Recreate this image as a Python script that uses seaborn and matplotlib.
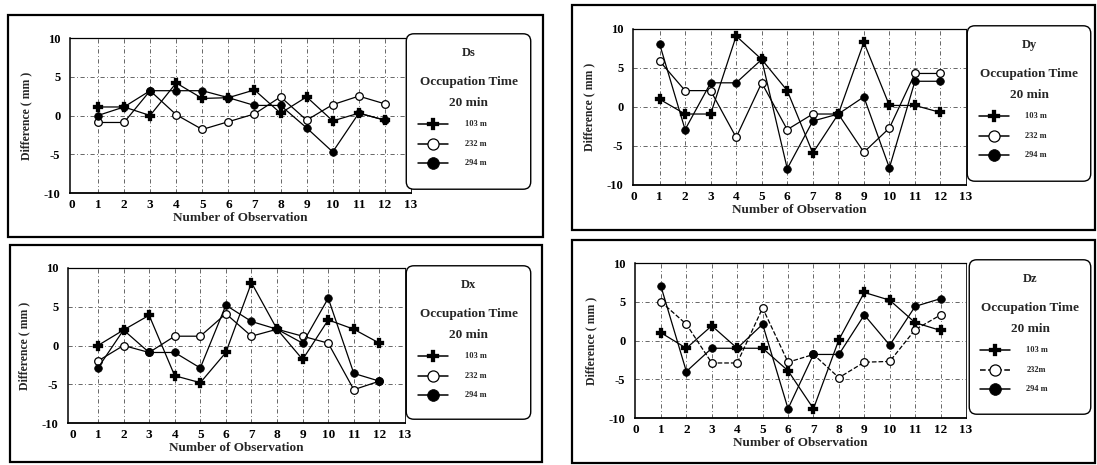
import numpy as np
import pandas as pd
import matplotlib
matplotlib.use("Agg")
import matplotlib.pyplot as plt
from matplotlib.patches import FancyBboxPatch, Rectangle
from matplotlib.lines import Line2D
import seaborn as sns

# ---------------- data ----------------
obs = list(range(1, 13))
xticks = list(range(0, 14))
yticks = [-10, -5, 0, 5, 10]
series_labels = ["103 m", "232 m", "294 m"]
dz_labels = ["103 m", "232m", "294 m"]

ds_103 = [1.1, 1.1, 0.0, 4.2, 2.2, 2.3, 3.3, 0.3, 2.4, -0.7, 0.3, -0.6]
ds_232 = [-0.9, -0.9, 3.2, 0.1, -1.8, -0.8, 0.2, 2.4, -0.6, 1.4, 2.5, 1.5]
ds_294 = [0.0, 1.1, 3.2, 3.2, 3.2, 2.3, 1.3, 1.3, -1.6, -4.7, 0.3, -0.6]

dy_103 = [1.0, -0.9, -0.9, 9.1, 6.1, 2.1, -5.9, -0.9, 8.3, 0.2, 0.2, -0.7]
dy_232 = [5.9, 2.1, 2.1, -3.9, 3.1, -2.9, -0.9, -0.9, -5.8, -2.7, 4.3, 4.3]
dy_294 = [8.1, -2.9, 3.1, 3.1, 6.1, -7.9, -1.8, -0.9, 1.3, -7.8, 3.3, 3.3]

dx_103 = [0.0, 2.0, 3.9, -3.9, -4.8, -0.9, 8.1, 2.1, -1.8, 3.3, 2.1, 0.3]
dx_232 = [-2.0, 0.0, -0.9, 1.2, 1.2, 4.1, 1.2, 2.1, 1.2, 0.3, -5.7, -4.6]
dx_294 = [-2.9, 2.0, -0.9, -0.9, -2.9, 5.2, 3.1, 2.1, 0.3, 6.1, -3.6, -4.6]

dz_103 = [1.0, -1.0, 1.9, -1.0, -1.0, -3.9, -8.8, 0.1, 6.2, 5.2, 2.3, 1.3]
dz_232 = [5.0, 2.1, -2.9, -2.9, 4.2, -2.8, -1.8, -4.8, -2.8, -2.7, 1.4, 3.3]
dz_294 = [7.0, -4.0, -1.0, -1.0, 2.1, -8.8, -1.8, -1.8, 3.3, -0.6, 4.4, 5.4]

# ---------------- style ----------------
sns.set_theme(style="white")
plt.rcParams["font.family"] = ["Liberation Serif", "DejaVu Serif"]
plt.rcParams["font.weight"] = "bold"

W, H = 1097, 465
fig = plt.figure(figsize=(W / 100, H / 100), dpi=100)
fig.patch.set_facecolor("white")


def rect(x0, y0, x1, y1):
    return [x0 / W, 1 - y1 / H, (x1 - x0) / W, (y1 - y0) / H]


marker_styles = [
    dict(marker="P", markersize=6.5, markerfacecolor="black", markeredgecolor="black", markeredgewidth=0.2),
    dict(marker="o", markersize=5.5, markerfacecolor="white", markeredgecolor="black", markeredgewidth=0.9),
    dict(marker="o", markersize=5.5, markerfacecolor="black", markeredgecolor="black", markeredgewidth=0.5),
]
legend_sizes = [8.5, 8.0, 8.5]

panels = [
    dict(name="Ds", data=[ds_103, ds_232, ds_294], labels=series_labels,
         border=(8, 15, 543, 237), axes=(70, 38, 411, 193), xmin=-0.07,
         legend=(405, 33, 532, 190), dash232=False),
    dict(name="Dy", data=[dy_103, dy_232, dy_294], labels=series_labels,
         border=(572, 5, 1095, 230), axes=(633, 29, 966, 185), xmin=-0.04,
         legend=(966, 25, 1092, 182), dash232=False),
    dict(name="Dx", data=[dx_103, dx_232, dx_294], labels=series_labels,
         border=(10, 245, 542, 462), axes=(68, 268, 405, 423), xmin=-0.17,
         legend=(405, 265, 532, 420), dash232=False),
    dict(name="Dz", data=[dz_103, dz_232, dz_294], labels=dz_labels,
         border=(572, 240, 1095, 463), axes=(635, 263, 966, 418), xmin=-0.02,
         legend=(968, 259, 1092, 415), dash232=True),
]

grid_ls = (0, (5, 3, 1, 3))

for p in panels:
    # outer panel frame
    bx0, by0, bx1, by1 = p["border"]
    fig.patches.append(Rectangle((bx0 / W, 1 - by1 / H), (bx1 - bx0) / W, (by1 - by0) / H,
                                 transform=fig.transFigure, fill=False,
                                 edgecolor="black", linewidth=1.6, zorder=0))

    ax = fig.add_axes(rect(*p["axes"]))
    ax.set_facecolor("none")
    for i, vals in enumerate(p["data"]):
        df = pd.DataFrame({"obs": obs, "val": vals})
        ls = "--" if (p["dash232"] and i == 1) else "-"
        sns.lineplot(data=df, x="obs", y="val", ax=ax, color="black",
                     linewidth=0.9, linestyle=ls, zorder=3 + i,
                     **marker_styles[i])

    ax.set_xlim(p["xmin"], 13)
    ax.set_ylim(-10, 10)
    ax.set_xticks(xticks)
    ax.set_yticks(yticks)
    ax.set_xticklabels([str(t) for t in xticks], fontsize=9.5, fontweight="bold")
    ax.set_yticklabels([str(t) for t in yticks], fontsize=9, fontweight="bold")
    ax.tick_params(axis="x", direction="inout", length=5, width=0.8, pad=1.5, colors="black")
    ax.tick_params(axis="y", direction="out", length=3, width=0.8, pad=4, colors="black")
    ax.set_xlabel("Number of Observation", fontsize=9.5, fontweight="bold", labelpad=1)
    ax.set_ylabel("Difference ( mm )", fontsize=8.5, fontweight="bold", labelpad=8)

    for g in obs:
        ax.axvline(g, color="0.3", linewidth=0.6, linestyle=grid_ls, zorder=1)
    for g in [-5, 0, 5]:
        ax.axhline(g, color="0.3", linewidth=0.6, linestyle=grid_ls, zorder=1)

    for side in ["left", "bottom", "top", "right"]:
        ax.spines[side].set_visible(True)
        ax.spines[side].set_color("black")
    ax.spines["left"].set_linewidth(1.1)
    ax.spines["bottom"].set_linewidth(1.3)
    ax.spines["top"].set_linewidth(0.9)
    ax.spines["right"].set_linewidth(0.6)

    # legend box
    lx0, ly0, lx1, ly1 = p["legend"]
    lax = fig.add_axes(rect(lx0, ly0, lx1, ly1))
    lax.set_xlim(0, 1)
    lax.set_ylim(0, 1)
    lax.axis("off")
    box = FancyBboxPatch((0.01, 0.005), 0.98, 0.99,
                         boxstyle="round,pad=0,rounding_size=0.06",
                         transform=lax.transAxes, facecolor="white",
                         edgecolor="black", linewidth=1.0, mutation_aspect=0.8)
    lax.add_patch(box)
    hgt = ly1 - ly0

    def fy(ypix):
        return 1 - (ypix - ly0) / hgt

    lax.text(0.5, fy(ly0 + 20), p["name"], ha="center", va="center",
             fontsize=9, fontweight="bold")
    lax.text(0.5, fy(ly0 + 49), "Occupation Time", ha="center", va="center",
             fontsize=9.5, fontweight="bold")
    lax.text(0.5, fy(ly0 + 70), "20 min", ha="center", va="center",
             fontsize=9.5, fontweight="bold")
    row_y = [ly0 + 91, ly0 + 111, ly0 + 130]
    for i, lab in enumerate(p["labels"]):
        ls = "--" if (p["dash232"] and i == 1) else "-"
        ms = dict(marker_styles[i])
        ms["markersize"] = legend_sizes[i]
        lax.add_line(Line2D([0.10, 0.34], [fy(row_y[i])] * 2, color="black",
                            linewidth=1.1, linestyle=ls))
        lax.add_line(Line2D([0.22], [fy(row_y[i])], color="black",
                            linestyle="none", **ms))
        lax.text(0.47, fy(row_y[i]), lab, ha="left", va="center",
                 fontsize=6, fontweight="bold")

fig.savefig("out.png", dpi=100, facecolor="white")
